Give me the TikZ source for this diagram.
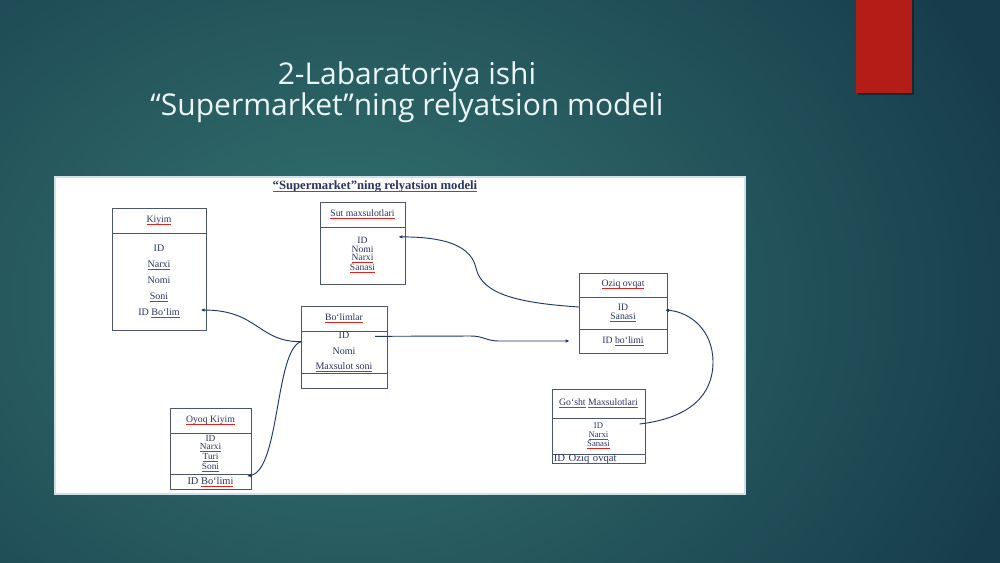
\documentclass[tikz,border=0pt]{standalone}
\usepackage{fontspec}
\usepackage{xcolor}
\usetikzlibrary{arrows.meta,positioning,calc}

\newfontfamily\cellserif[Ligatures=TeX]{Liberation Serif}
\newfontfamily\titlesans{Open Sans}

\definecolor{bgin}{HTML}{357470}
\definecolor{bgout}{HTML}{173D4C}
\definecolor{accent}{HTML}{B41C17}
\definecolor{ink}{HTML}{2A3462}
\definecolor{frame}{HTML}{4B566E}
\definecolor{wire}{HTML}{1F3864}
\definecolor{squig}{HTML}{E0231A}
\definecolor{panelrim}{HTML}{CFE2EA}

% red spell-check underline
\newcommand{\sq}[1]{\textcolor{squig}{$\underline{\raisebox{0pt}[\height][0pt]{\color{ink}#1}}$}}

\begin{document}
\begin{tikzpicture}[
    x=0.75pt, y=-0.75pt,
    tbl/.style  = {draw=frame, line width=0.5pt, outer sep=0pt, inner sep=1pt,
                   align=center, text=ink},
    hdr/.style  = {tbl, anchor=north west, font=\cellserif\fontsize{7.3}{8}\selectfont},
    fk/.style   = {-{Latex[length=3pt,width=2.6pt]}, wire, line width=0.7pt},
]

\useasboundingbox (0,0) rectangle (1000,562);

% ============ slide background ============
\begin{scope}
  \clip (0,0) rectangle (1000,562);
  \fill[inner color=bgin, outer color=bgout] (-350,-250) rectangle (1050,850);
\end{scope}
\fill[black, opacity=0.35] (858,0) rectangle (914,95);
\fill[accent] (856,0) rectangle (912,93);

\node[font=\titlesans\fontsize{22.5}{20.5}\selectfont, text=white!92!teal,
      align=center] (title) at (407,92)
    {2-Labaratoriya ishi\\“Supermarket”ning relyatsion modeli};

% ============ picture panel ============
\filldraw[fill=white, draw=panelrim, line width=1pt] (55,177) rectangle (745,494);

\node[font=\cellserif\bfseries\fontsize{9.5}{11}\selectfont, text=ink] (imgtitle)
    at (375,186) {\sq{“Supermarket”ning relyatsion modeli}};

% ============ Kiyim ============
\node[hdr, minimum width=70.5pt, minimum height=18.75pt] (kiyimH) at (112,208) {\sq{Kiyim}};
\node[tbl, below=0pt of kiyimH, minimum width=70.5pt, minimum height=72.75pt,
      font=\cellserif\fontsize{7.5}{12}\selectfont] (kiyimB)
    {ID\\\sq{Narxi}\\Nomi\\\sq{Soni}\\ID \sq{Bo‘lim}};

% ============ Sut maxsulotlari ============
\node[hdr, minimum width=63.75pt, minimum height=18.75pt] (sutH) at (320,202) {\sq{Sut maxsulotlari}};
\node[tbl, below=0pt of sutH, minimum width=63.75pt, minimum height=42.75pt,
      font=\cellserif\fontsize{7.2}{6.3}\selectfont] (sutM)
    {ID\\Nomi\\\sq{Narxi}\\\sq{Sanasi}};

% ============ Bo`limlar ============
\node[hdr, minimum width=64.5pt, minimum height=18.75pt] (bolH) at (301,306) {\sq{Bo‘limlar}};
\node[tbl, below=0pt of bolH, minimum width=64.5pt, minimum height=30.75pt,
      font=\cellserif\fontsize{7.5}{11.6}\selectfont] (bolM)
    {ID\\Nomi\\\sq{Maxsulot soni}};
\node[tbl, below=0pt of bolM, minimum width=64.5pt, minimum height=11.25pt] (bolB) {};

% ============ Oziq ovqat ============
\node[hdr, minimum width=66pt, minimum height=18pt] (ozH) at (579,273) {\sq{Oziq ovqat}};
\node[tbl, below=0pt of ozH, minimum width=66pt, minimum height=24pt,
      font=\cellserif\fontsize{7.3}{6.9}\selectfont] (ozM)
    {ID\\\sq{Sanasi}};
\node[tbl, below=0pt of ozM, minimum width=66pt, minimum height=18pt,
      font=\cellserif\fontsize{7.3}{8}\selectfont] (ozB) {ID \sq{bo‘limi}};

% ============ Oyoq Kiyim ============
\node[hdr, minimum width=60.75pt, minimum height=18.75pt] (oyoqH) at (170,408) {\sq{Oyoq Kiyim}};
\node[tbl, below=0pt of oyoqH, minimum width=60.75pt, minimum height=30.75pt,
      font=\cellserif\fontsize{7}{6}\selectfont] (oyoqM)
    {ID\\\sq{Narxi}\\\sq{Turi}\\\sq{Soni}};
\node[tbl, below=0pt of oyoqM, minimum width=60.75pt, minimum height=11.25pt,
      text height=6pt, text depth=2pt, inner ysep=1.6pt,
      font=\cellserif\fontsize{7.8}{8}\selectfont] (oyoqB) {ID \sq{Bo‘limi}};

% ============ Go`sht Maxsulotlari ============
\node[hdr, minimum width=69.75pt, minimum height=21.75pt] (gosH) at (552,389) {\sq{Go‘sht} \sq{Maxsulotlari}};
\node[tbl, below=0pt of gosH, minimum width=69.75pt, minimum height=27pt,
      font=\cellserif\fontsize{6.5}{6.5}\selectfont] (gosM)
    {ID\\\sq{Narxi}\\\sq{Sanasi}};
\node[tbl, below=0pt of gosM, minimum width=69.75pt, minimum height=6.75pt,
      text height=5.5pt, text depth=0.5pt, inner ysep=0.4pt,
      text width=67pt, align=left,
      font=\cellserif\fontsize{8}{8}\selectfont] (gosB) {ID \sq{Oziq ovqat}};

% ============ links ============
\draw[fk] ([yshift=-8pt]bolM.north west)
    .. controls (258,342) and (258,310) .. ([xshift=-4pt,yshift=-21.4pt]kiyimB.east);
\draw[fk] ([yshift=-8pt]bolM.north west)
    .. controls (275,350) and (280,470) .. ([xshift=-3pt,yshift=4pt]oyoqB.east);
\draw[fk] ([xshift=-9pt,yshift=-4pt]bolM.north east) -- (470,336)
    .. controls (485,336) and (485,341) .. (500,341) -- ([xshift=-7pt]ozB.west);
\draw[fk] ([yshift=4.5pt]ozM.west)
    .. controls (520,303) and (482,295) .. (476,268)
    .. controls (470,240) and (430,237) .. ([xshift=-5pt,yshift=14pt]sutM.east);
\draw[fk] ([xshift=-4pt,yshift=9pt]gosM.east)
    .. controls (690,418) and (713,395) .. (713,362)
    .. controls (713,330) and (690,312) .. ([xshift=-1.5pt,yshift=2.25pt]ozM.east);

\end{tikzpicture}
\end{document}
